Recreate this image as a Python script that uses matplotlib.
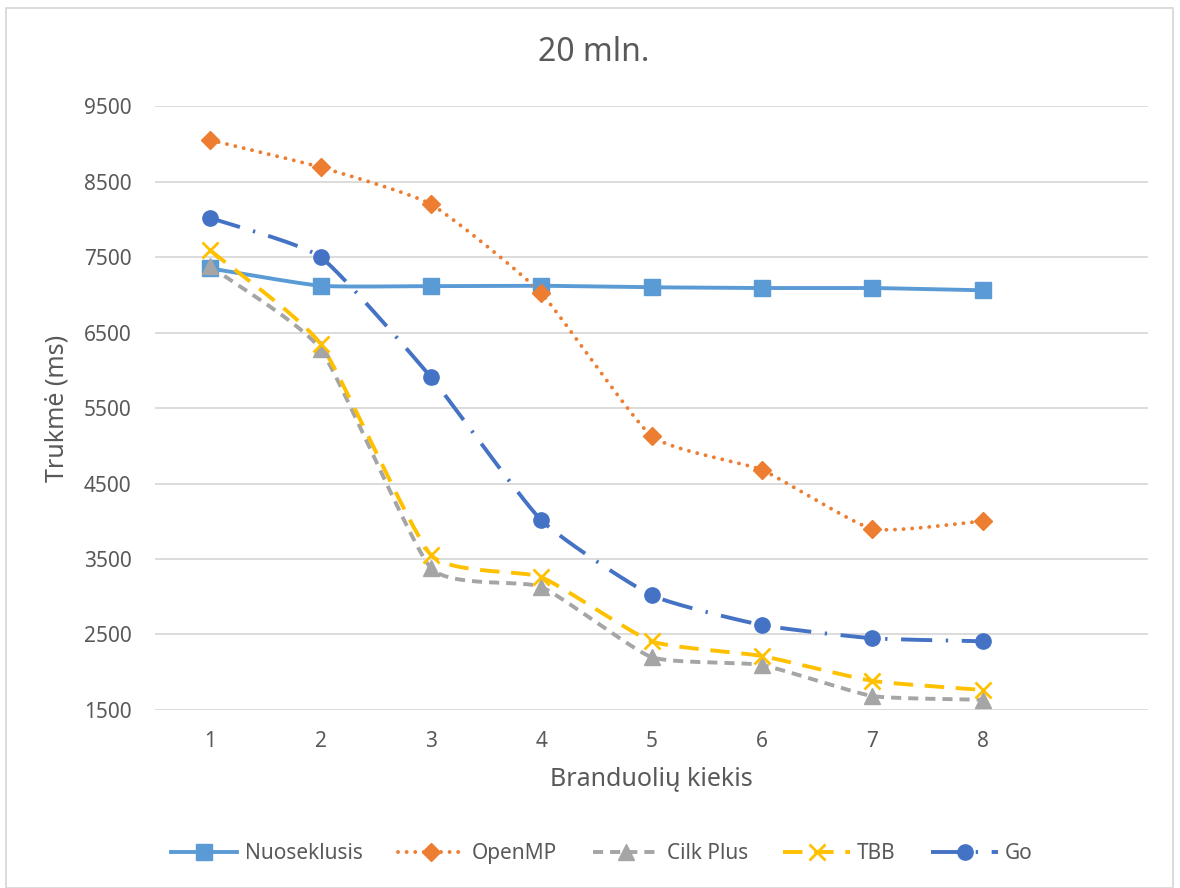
import numpy as np
import matplotlib.pyplot as plt
from matplotlib.patches import Rectangle

plt.rcParams['font.family'] = ['Noto Sans', 'DejaVu Sans']

cores = [1, 2, 3, 4, 5, 6, 7, 8]
tick_labels = ['1', '2', '3', '4', '5', '6', '7', '8', '']

nuoseklusis = [7350, 7120, 7115, 7120, 7100, 7090, 7090, 7060]
openmp = [9050, 8690, 8200, 7020, 5130, 4680, 3900, 4000]
cilk_plus = [7380, 6280, 3380, 3130, 2200, 2095, 1685, 1635]
tbb = [7590, 6350, 3555, 3260, 2410, 2215, 1885, 1765]
go = [8020, 7500, 5910, 4015, 3020, 2625, 2450, 2410]

series_names = ['Nuoseklusis', 'OpenMP', 'Cilk Plus', 'TBB', 'Go']


def smooth(x, y, n=30, tension=0.5):
    # cardinal spline through the points, like a smoothed line chart
    x = np.asarray(x, float)
    y = np.asarray(y, float)
    px = np.concatenate([[2 * x[0] - x[1]], x, [2 * x[-1] - x[-2]]])
    py = np.concatenate([[2 * y[0] - y[1]], y, [2 * y[-1] - y[-2]]])
    xs, ys = [], []
    t = np.linspace(0, 1, n)
    h00 = 2 * t**3 - 3 * t**2 + 1
    h10 = t**3 - 2 * t**2 + t
    h01 = -2 * t**3 + 3 * t**2
    h11 = t**3 - t**2
    for i in range(1, len(px) - 2):
        for p, out in ((px, xs), (py, ys)):
            p0, p1, p2, p3 = p[i - 1], p[i], p[i + 1], p[i + 2]
            m1 = tension * (p2 - p0) / 2
            m2 = tension * (p3 - p1) / 2
            out.append(h00 * p1 + h10 * m1 + h01 * p2 + h11 * m2)
    return np.concatenate(xs), np.concatenate(ys)


styles = [
    dict(color='#5B9BD5', ls='-', marker='s', ms=12),
    dict(color='#ED7D31', ls=(0, (0.01, 2.2)), marker='D', ms=9),
    dict(color='#A5A5A5', ls=(0, (2.6, 1.8)), marker='^', ms=11),
    dict(color='#FFC000', ls=(0, (5, 3)), marker='x', ms=12),
    dict(color='#4472C4', ls=(0, (8, 3.5, 0.6, 3.5)), marker='o', ms=11),
]

fig = plt.figure(figsize=(11.8, 8.88), dpi=100)
ax = fig.add_axes([0.1314, 0.2005, 0.8415, 0.680])

handles = []
for vals, name, st in zip([nuoseklusis, openmp, cilk_plus, tbb, go], series_names, styles):
    sx, sy = smooth(cores, vals)
    capstyle = 'round' if name == 'OpenMP' else 'butt'
    mew = 2 if st['marker'] == 'x' else 1
    ax.plot(sx, sy, color=st['color'], ls=st['ls'], lw=2.8,
            dash_capstyle=capstyle, zorder=2)
    ax.plot(cores, vals, ls='none', marker=st['marker'], ms=st['ms'],
            color=st['color'], mec=st['color'], mew=mew, zorder=3)
    h, = ax.plot([], [], color=st['color'], ls=st['ls'], lw=2.8,
                 dash_capstyle=capstyle, marker=st['marker'], ms=st['ms'],
                 mew=mew, label=name)
    handles.append(h)

ax.set_xlim(0.5, 9.5)
ax.set_ylim(1500, 9500)
ax.set_xticks(range(1, 10))
ax.set_xticklabels(tick_labels)
ax.set_yticks(range(1500, 9501, 1000))
ax.grid(axis='y', color='#D9D9D9', lw=1.3)
ax.set_axisbelow(True)
for sp in ax.spines.values():
    sp.set_visible(False)
ax.tick_params(length=0, labelsize=15, colors='#595959')
ax.tick_params(axis='y', pad=17)
ax.tick_params(axis='x', pad=15)

# title is centred on the whole figure, not on the plot area
fig.text(0.503, 0.941, '20 mln.', fontsize=23, color='#595959',
         ha='center', va='center')
ax.set_xlabel('Branduolių kiekis', fontsize=18, color='#595959', labelpad=10)
ax.set_ylabel('Trukmė (ms)', fontsize=18, color='#595959', labelpad=10)

fig.legend(handles=handles, loc='center', bbox_to_anchor=(0.51, 0.039), ncol=5,
           frameon=False, fontsize=15, labelcolor='#595959', handlelength=3.2,
           columnspacing=1.7, handletextpad=0.35)

fig.patches.append(Rectangle((0.005, 0.0), 0.989, 0.991, transform=fig.transFigure,
                             fill=False, edgecolor='#D9D9D9', lw=1.3))

fig.savefig('out.png', dpi=100)
